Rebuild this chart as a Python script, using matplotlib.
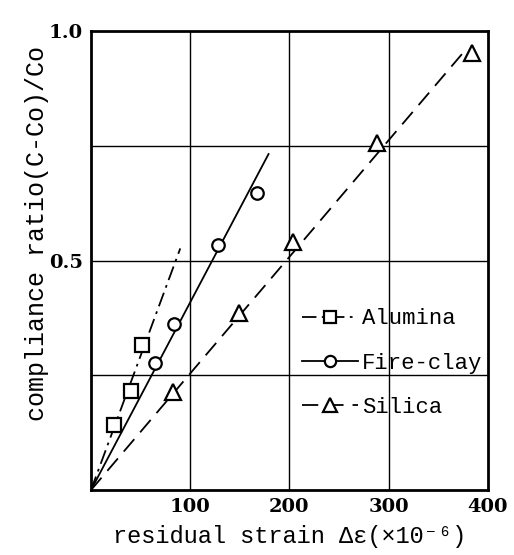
import matplotlib.pyplot as plt
from matplotlib.lines import Line2D
import numpy as np

plt.rcParams["font.family"] = ["Liberation Mono", "DejaVu Sans Mono"]

# measured points (residual strain x1e-6, compliance ratio)
alumina_x = [23, 40, 51]
alumina_y = [0.141, 0.215, 0.315]
fireclay_x = [64.5, 83.6, 128, 167]
fireclay_y = [0.276, 0.361, 0.535, 0.648]
silica_x = [83, 149, 204, 288, 384]
silica_y = [0.213, 0.385, 0.541, 0.757, 0.952]

# fitted lines through origin: slope and end of drawn line
names = ["Alumina", "Fire-clay", "Silica"]
fit_slope = [0.00585, 0.00409, 0.00254]
fit_end = [90, 179, 378]

x_ticks = [100, 200, 300, 400]
y_ticks = [0.5, 1.0]
x_grid = [100, 200, 300]
y_grid = [0.25, 0.5, 0.75]

series = [(alumina_x, alumina_y), (fireclay_x, fireclay_y), (silica_x, silica_y)]
markers = ["s", "o", "^"]
msizes = [10, 9, 11]
dashes = [(8, 3, 1.5, 3), None, (9, 5)]

fig = plt.figure(figsize=(5.14, 5.55), dpi=100)
ax = fig.add_axes([0.177, 0.117, 0.772, 0.827])

for gx in x_grid:
    ax.axvline(gx, color="black", lw=1.0, zorder=1)
for gy in y_grid:
    ax.axhline(gy, color="black", lw=1.0, zorder=1)

handles = []
for (xs, ys), name, sl, xe, mk, ms, ds in zip(series, names, fit_slope, fit_end,
                                                markers, msizes, dashes):
    xx = np.array([0, xe])
    ln, = ax.plot(xx, sl * xx, color="black", lw=1.3, zorder=2)
    if ds is not None:
        ln.set_dashes(ds)
    ax.plot(xs, ys, linestyle="none", marker=mk, ms=ms, mfc="white",
            mec="black", mew=1.6, zorder=3)
    h = Line2D([], [], color="black", lw=1.3, marker=mk, ms=ms * 0.9,
               mfc="white", mec="black", mew=1.6)
    if ds is not None:
        h.set_dashes(ds)
    handles.append(h)

ax.set_xlim(0, 400)
ax.set_ylim(0, 1.0)
ax.set_xticks(x_ticks)
ax.set_xticklabels([str(v) for v in x_ticks])
ax.set_yticks(y_ticks)
ax.set_yticklabels([f"{v:.1f}" for v in y_ticks])
ax.tick_params(which="both", length=0, labelsize=14, pad=6)
for lab in ax.get_xticklabels() + ax.get_yticklabels():
    lab.set_family("DejaVu Serif")
    lab.set_fontweight("bold")
for s in ax.spines.values():
    s.set_linewidth(2)

ax.set_xlabel("residual strain \u0394\u03b5(\u00d710\u207b\u2076)", fontsize=17,
              labelpad=6, x=0.5)
ax.xaxis.label.set_family(["Liberation Mono", "DejaVu Sans Mono"])
ax.set_ylabel("compliance ratio(C-Co)/Co", fontsize=18, labelpad=0, y=0.56)

leg = ax.legend(handles, names, loc="upper left", bbox_to_anchor=(0.51, 0.415),
                frameon=False, fontsize=16, handlelength=2.5, handletextpad=0.2,
                labelspacing=1.05, borderaxespad=0)

fig.savefig("out.png", dpi=100)
